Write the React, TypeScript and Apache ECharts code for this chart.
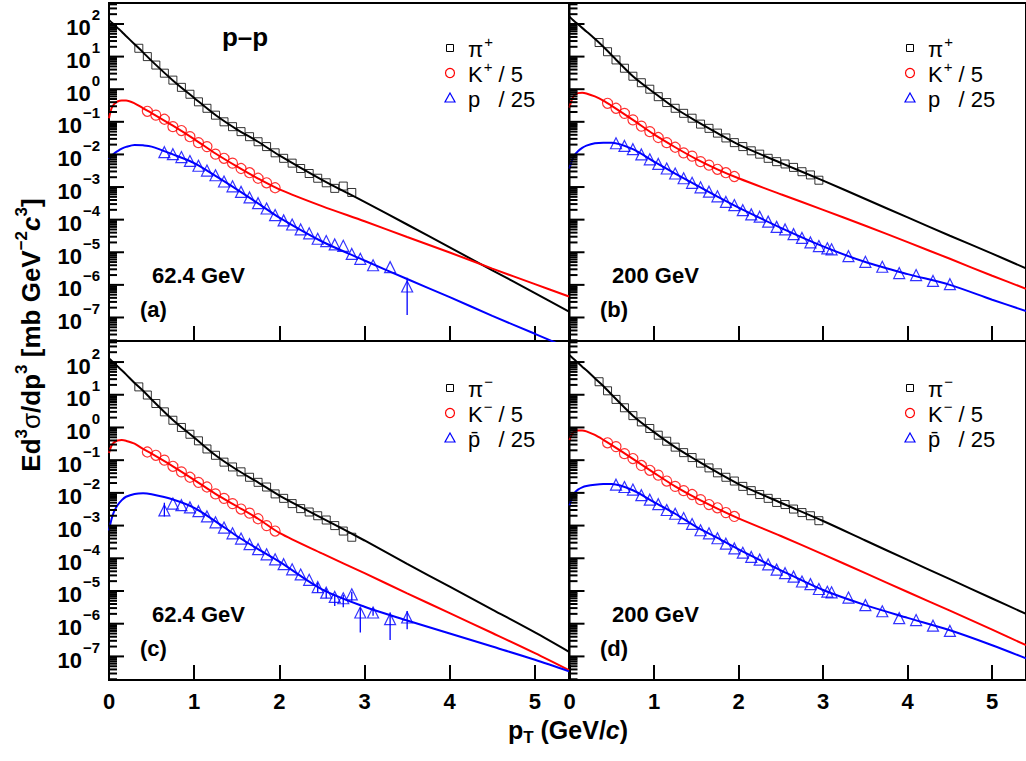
import React, { useEffect, useRef } from 'react';
import * as echarts from 'echarts';

const FONT = '"Liberation Sans", Arial, Helvetica, sans-serif';

const Y_MIN = 1.9e-8;
const Y_MAX = 4.4e2;
const X_MAX = 5.4;

// decade ticks of the log axis and their labels
const Y_DECADES = [1e-7, 1e-6, 1e-5, 1e-4, 1e-3, 1e-2, 1e-1, 1e0, 1e1, 1e2];
const Y_DECADE_EXP = ['\u22127', '\u22126', '\u22125', '\u22124', '\u22123', '\u22122', '\u22121', '0', '1', '2'];

// pT grid on which the fit curves were read
const FIT_PT = [0, 0.03, 0.06, 0.1, 0.15, 0.2, 0.3, 0.4, 0.5, 0.75, 1.0, 1.25, 1.5, 1.75, 2.0, 2.5, 3.0, 3.5, 4.0, 4.5, 5.0, 5.4];

// ---- 62.4 GeV ----
const PI_PT_62 = [0.35, 0.45, 0.55, 0.65, 0.75, 0.85, 0.95, 1.05, 1.15, 1.25, 1.35, 1.45, 1.55, 1.65, 1.75, 1.85, 1.95, 2.05, 2.15, 2.25, 2.35, 2.45, 2.55, 2.65, 2.75, 2.85];
const K_PT = [0.45, 0.55, 0.65, 0.75, 0.85, 0.95, 1.05, 1.15, 1.25, 1.35, 1.45, 1.55, 1.65, 1.75, 1.85, 1.95];
const P_PT_62 = [0.65, 0.75, 0.85, 0.95, 1.05, 1.15, 1.25, 1.35, 1.45, 1.55, 1.65, 1.75, 1.85, 1.95, 2.05, 2.15, 2.25, 2.35, 2.45, 2.55, 2.65, 2.75, 2.85, 2.95, 3.1, 3.3, 3.5];

// (a) positive, 62.4 GeV
const PI_POS_62 = [1.8e1, 1.0e1, 5.5, 3.1, 1.9, 1.14, 7.0e-1, 4.1e-1, 2.6e-1, 1.6e-1, 1.0e-1, 7.1e-2, 5.0e-2, 3.5e-2, 2.45e-2, 1.74e-2, 1.12e-2, 7.6e-3, 5.4e-3, 3.7e-3, 2.6e-3, 1.86e-3, 1.35e-3, 9.1e-4, 1.07e-3, 6.8e-4];
const K_POS_62 = [2.1e-1, 1.6e-1, 1.2e-1, 7.1e-2, 5.4e-2, 3.5e-2, 2.3e-2, 1.74e-2, 1.02e-2, 7.6e-3, 5.4e-3, 3.7e-3, 2.75e-3, 1.86e-3, 1.35e-3, 9.5e-4];
const P_POS_62 = [1.17e-2, 1.02e-2, 8.3e-3, 6.3e-3, 4.5e-3, 3.2e-3, 2.3e-3, 1.48e-3, 1.05e-3, 7.1e-4, 4.8e-4, 3.2e-4, 2.2e-4, 1.38e-4, 9.5e-5, 7.1e-5, 5.0e-5, 3.8e-5, 2.6e-5, 2.2e-5, 1.74e-5, 1.58e-5, 8.9e-6, 6.3e-6, 4.0e-6, 3.5e-6, 8.9e-7];
const FIT_PI_POS_62 = [1.32e2, 1.12e2, 9.5e1, 7.6e1, 5.75e1, 4.27e1, 2.4e1, 1.35e1, 7.4, 1.86, 5.4e-1, 1.62e-1, 5.9e-2, 2.45e-2, 9.3e-3, 1.66e-3, 3.5e-4, 7.1e-5, 1.41e-5, 2.8e-6, 5.6e-7, 1.51e-7];
const FIT_K_POS_62 = [1.29e-1, 2.6e-1, 3.5e-1, 4.2e-1, 4.5e-1, 4.5e-1, 3.7e-1, 2.6e-1, 1.86e-1, 7.6e-2, 2.95e-2, 1.07e-2, 4.3e-3, 1.82e-3, 8.5e-4, 2.6e-4, 8.9e-5, 2.95e-5, 9.8e-6, 3.16e-6, 1.05e-6, 4.4e-7];
const FIT_P_POS_62 = [7.1e-3, 8.9e-3, 1.07e-2, 1.26e-2, 1.51e-2, 1.7e-2, 1.95e-2, 1.9e-2, 1.74e-2, 1.0e-2, 5.4e-3, 2.2e-3, 8.5e-4, 3.16e-4, 1.15e-4, 2.14e-5, 5.6e-6, 1.51e-6, 4.2e-7, 1.12e-7, 3.16e-8, 1.12e-8];
const P_ERR_POS_62 = [[3.5, 1.2e-7, 1.66e-6]];

// (c) negative, 62.4 GeV
const PI_NEG_62 = [1.74e1, 9.8, 5.4, 3.0, 1.66, 1.0, 6.2e-1, 3.9e-1, 2.2e-1, 1.41e-1, 8.7e-2, 6.2e-2, 4.4e-2, 3.0e-2, 2.1e-2, 1.51e-2, 9.3e-3, 6.8e-3, 4.7e-3, 3.3e-3, 2.6e-3, 2.0e-3, 1.48e-3, 1.0e-3, 6.8e-4, 4.4e-4];
const K_NEG_62 = [1.78e-1, 1.41e-1, 1.0e-1, 6.5e-2, 4.4e-2, 3.0e-2, 2.1e-2, 1.51e-2, 9.3e-3, 6.8e-3, 4.7e-3, 3.2e-3, 2.4e-3, 1.62e-3, 1.0e-3, 6.8e-4];
const PBAR_NEG_62 = [2.9e-3, 4.7e-3, 4.2e-3, 3.6e-3, 2.75e-3, 1.9e-3, 1.26e-3, 8.7e-4, 5.8e-4, 4.0e-4, 2.7e-4, 1.9e-4, 1.32e-4, 9.3e-5, 6.6e-5, 4.6e-5, 3.2e-5, 2.2e-5, 1.32e-5, 8.9e-6, 6.6e-6, 6.0e-6, 7.9e-6, 2.2e-6, 2.2e-6, 1.38e-6, 1.55e-6];
const FIT_PI_NEG_62 = [1.29e2, 1.1e2, 9.3e1, 7.4e1, 5.6e1, 4.2e1, 2.3e1, 1.32e1, 7.2, 1.7, 4.9e-1, 1.41e-1, 5.1e-2, 2.1e-2, 8.3e-3, 1.7e-3, 3.5e-4, 6.8e-5, 1.35e-5, 2.7e-6, 5.4e-7, 1.38e-7];
const FIT_K_NEG_62 = [1.66e-1, 2.8e-1, 3.5e-1, 4.0e-1, 4.1e-1, 3.9e-1, 3.2e-1, 2.2e-1, 1.58e-1, 6.5e-2, 2.5e-2, 9.3e-3, 3.9e-3, 1.62e-3, 6.0e-4, 1.41e-4, 3.5e-5, 8.5e-6, 2.1e-6, 5.2e-7, 1.26e-7, 3.8e-8];
const FIT_PBAR_NEG_62 = [7.1e-4, 1.58e-3, 2.7e-3, 4.2e-3, 6.0e-3, 7.6e-3, 9.3e-3, 9.8e-3, 9.1e-3, 6.3e-3, 3.5e-3, 1.35e-3, 4.8e-4, 1.9e-4, 7.9e-5, 1.12e-5, 3.3e-6, 1.26e-6, 5.0e-7, 2.0e-7, 7.9e-8, 3.5e-8];
const PBAR_ERR_NEG_62 = [[0.65, 1.9e-3, 5.0e-3], [2.45, 9.0e-6, 1.8e-5], [2.55, 6.0e-6, 1.2e-5], [2.65, 3.5e-6, 8.0e-6], [2.75, 3.2e-6, 7.5e-6], [2.85, 5.0e-6, 9.5e-6], [2.95, 5.4e-7, 3.1e-6], [3.1, 1.74e-6, 3.1e-6], [3.3, 3.2e-7, 2.2e-6], [3.5, 6.8e-7, 2.45e-6]];

// ---- 200 GeV ----
const PI_PT_200 = [0.35, 0.45, 0.55, 0.65, 0.75, 0.85, 0.95, 1.05, 1.15, 1.25, 1.35, 1.45, 1.55, 1.65, 1.75, 1.85, 1.95, 2.05, 2.15, 2.25, 2.35, 2.45, 2.55, 2.65, 2.75, 2.85, 2.95];
const P_PT_200 = [0.55, 0.65, 0.75, 0.85, 0.95, 1.05, 1.15, 1.25, 1.35, 1.45, 1.55, 1.65, 1.75, 1.85, 1.95, 2.05, 2.15, 2.25, 2.35, 2.45, 2.55, 2.65, 2.75, 2.85, 2.95, 3.05, 3.1, 3.3, 3.5, 3.7, 3.9, 4.1, 4.3, 4.5];

// (b) positive, 200 GeV
const PI_POS_200 = [2.7e1, 1.41e1, 7.9, 4.4, 2.5, 1.58, 1.0, 5.9e-1, 3.9e-1, 2.6e-1, 1.82e-1, 1.29e-1, 8.5e-2, 6.3e-2, 4.5e-2, 3.2e-2, 2.3e-2, 1.74e-2, 1.29e-2, 1.02e-2, 7.6e-3, 6.0e-3, 5.1e-3, 4.0e-3, 2.95e-3, 2.35e-3, 1.62e-3];
const K_POS_200 = [3.7e-1, 2.6e-1, 1.82e-1, 1.15e-1, 7.4e-2, 5.0e-2, 3.3e-2, 2.3e-2, 1.66e-2, 1.12e-2, 8.9e-3, 6.0e-3, 4.7e-3, 3.5e-3, 2.75e-3, 2.1e-3];
const P_POS_200 = [2.2e-2, 1.82e-2, 1.45e-2, 1.0e-2, 7.1e-3, 5.1e-3, 3.7e-3, 2.6e-3, 1.86e-3, 1.35e-3, 9.8e-4, 7.2e-4, 5.2e-4, 3.5e-4, 2.8e-4, 1.95e-4, 1.45e-4, 1.23e-4, 8.7e-5, 6.0e-5, 5.0e-5, 3.6e-5, 2.75e-5, 2.0e-5, 1.55e-5, 1.32e-5, 1.23e-5, 7.6e-6, 5.1e-6, 3.6e-6, 2.3e-6, 2.0e-6, 1.32e-6, 1.05e-6];
const FIT_PI_POS_200 = [1.66e2, 1.41e2, 1.2e2, 9.8e1, 7.6e1, 5.9e1, 3.5e1, 2.0e1, 1.1e1, 2.5, 7.8e-1, 2.6e-1, 1.05e-1, 4.5e-2, 2.0e-2, 5.5e-3, 1.58e-3, 4.3e-4, 1.17e-4, 3.2e-5, 9.1e-6, 3.2e-6];
const FIT_K_POS_200 = [2.75e-1, 5.0e-1, 6.6e-1, 7.6e-1, 7.8e-1, 7.4e-1, 6.0e-1, 4.5e-1, 3.1e-1, 1.15e-1, 4.1e-2, 1.66e-2, 7.2e-3, 3.5e-3, 1.86e-3, 6.0e-4, 2.0e-4, 6.5e-5, 2.04e-5, 6.3e-6, 1.9e-6, 7.6e-7];
const FIT_P_POS_200 = [3.7e-3, 6.6e-3, 9.5e-3, 1.26e-2, 1.58e-2, 1.86e-2, 2.2e-2, 2.3e-2, 2.3e-2, 1.45e-2, 6.0e-3, 2.6e-3, 1.15e-3, 5.1e-4, 2.34e-4, 5.6e-5, 1.51e-5, 5.0e-6, 2.14e-6, 1.0e-6, 3.5e-7, 1.58e-7];

// (d) negative, 200 GeV
const PI_NEG_200 = [2.5e1, 1.32e1, 7.2, 4.0, 2.3, 1.48, 9.3e-1, 5.8e-1, 3.8e-1, 2.5e-1, 1.7e-1, 1.2e-1, 8.1e-2, 5.8e-2, 4.1e-2, 3.0e-2, 2.3e-2, 1.58e-2, 1.17e-2, 8.9e-3, 6.8e-3, 5.1e-3, 4.4e-3, 3.2e-3, 2.5e-3, 2.0e-3, 1.41e-3];
const K_NEG_200 = [3.4e-1, 2.6e-1, 1.58e-1, 1.12e-1, 6.9e-2, 4.9e-2, 3.5e-2, 2.3e-2, 1.58e-2, 1.17e-2, 8.9e-3, 6.2e-3, 4.4e-3, 3.5e-3, 2.5e-3, 1.9e-3];
const PBAR_NEG_200 = [1.78e-2, 1.51e-2, 1.26e-2, 8.5e-3, 6.2e-3, 4.5e-3, 3.0e-3, 2.3e-3, 1.7e-3, 1.12e-3, 7.2e-4, 5.8e-4, 4.1e-4, 2.8e-4, 2.0e-4, 1.48e-4, 1.1e-4, 9.1e-5, 6.5e-5, 4.5e-5, 3.5e-5, 2.75e-5, 1.95e-5, 1.62e-5, 1.15e-5, 9.5e-6, 9.1e-6, 6.3e-6, 3.7e-6, 2.4e-6, 1.48e-6, 1.29e-6, 8.7e-7, 6.0e-7];
const FIT_PI_NEG_200 = [1.62e2, 1.38e2, 1.17e2, 9.5e1, 7.2e1, 5.6e1, 3.2e1, 1.86e1, 1.0e1, 2.3, 7.2e-1, 2.5e-1, 1.0e-1, 4.2e-2, 1.86e-2, 5.0e-3, 1.38e-3, 3.5e-4, 8.9e-5, 2.3e-5, 5.9e-6, 2.0e-6];
const FIT_K_NEG_200 = [4.1e-1, 6.3e-1, 7.6e-1, 8.1e-1, 8.1e-1, 7.6e-1, 5.9e-1, 4.2e-1, 2.9e-1, 1.1e-1, 4.1e-2, 1.58e-2, 6.9e-3, 3.3e-3, 1.66e-3, 4.8e-4, 1.32e-4, 3.5e-5, 9.3e-6, 2.5e-6, 6.6e-7, 2.2e-7];
const FIT_PBAR_NEG_200 = [4.1e-3, 7.1e-3, 1.0e-2, 1.26e-2, 1.48e-2, 1.62e-2, 1.78e-2, 1.86e-2, 1.86e-2, 1.2e-2, 5.2e-3, 2.3e-3, 9.1e-4, 4.2e-4, 1.86e-4, 4.3e-5, 1.07e-5, 3.7e-6, 1.51e-6, 6.3e-7, 2.2e-7, 8.7e-8];

const LEGEND_POS = ['{n|\u03C0}{sup|+}', '{n|K}{sup|+}{n| / 5}', '{n|p   / 25}'];
const LEGEND_NEG = ['{n|\u03C0}{sup|\u2212}', '{n|K}{sup|\u2212}{n| / 5}', '{n|p\u0304   / 25}'];
const ENERGY_LABELS = ['62.4 GeV', '200 GeV', '62.4 GeV', '200 GeV'];
const PANEL_TAGS = ['(a)', '(b)', '(c)', '(d)'];
const X_TICK_LABELS = ['0', '1', '2', '3', '4', '5'];

const PANELS = [
  { name: '62.4 GeV +', piPt: PI_PT_62, pi: PI_POS_62, k: K_POS_62, pPt: P_PT_62, p: P_POS_62, fPi: FIT_PI_POS_62, fK: FIT_K_POS_62, fP: FIT_P_POS_62, err: P_ERR_POS_62, legend: LEGEND_POS },
  { name: '200 GeV +', piPt: PI_PT_200, pi: PI_POS_200, k: K_POS_200, pPt: P_PT_200, p: P_POS_200, fPi: FIT_PI_POS_200, fK: FIT_K_POS_200, fP: FIT_P_POS_200, err: [], legend: LEGEND_POS },
  { name: '62.4 GeV -', piPt: PI_PT_62, pi: PI_NEG_62, k: K_NEG_62, pPt: P_PT_62, p: PBAR_NEG_62, fPi: FIT_PI_NEG_62, fK: FIT_K_NEG_62, fP: FIT_PBAR_NEG_62, err: PBAR_ERR_NEG_62, legend: LEGEND_NEG },
  { name: '200 GeV -', piPt: PI_PT_200, pi: PI_NEG_200, k: K_NEG_200, pPt: P_PT_200, p: PBAR_NEG_200, fPi: FIT_PI_NEG_200, fK: FIT_K_NEG_200, fP: FIT_PBAR_NEG_200, err: [], legend: LEGEND_NEG },
];

const GRIDS = [
  { left: 109, top: 3, width: 460, height: 338 },
  { left: 569.5, top: 3, width: 460, height: 338 },
  { left: 109, top: 341, width: 460, height: 339 },
  { left: 569.5, top: 341, width: 460, height: 339 },
];

const BLACK = '#000000';
const RED = '#ff0000';
const BLUE = '#0000ff';

const zip = (xs: number[], ys: number[]) => xs.map((x, i) => [x, ys[i]]);

const Y_LABEL_RICH = {
  b: { fontSize: 22, fontWeight: 'bold', fontFamily: FONT, fill: BLACK, padding: [8, 0, 0, 0] },
  s: { fontSize: 15, fontWeight: 'bold', fontFamily: FONT, fill: BLACK, padding: [0, 0, 18, 1] },
};

function buildOption() {
  const minorVals: number[] = [];
  for (let d = -8; d <= 2; d++) {
    for (let m = 2; m <= 9; m++) {
      const v = m * Math.pow(10, d);
      if (v > Y_MIN && v < Y_MAX) minorVals.push(v);
    }
  }

  const grid = GRIDS.map((g) => ({ ...g, show: true, borderColor: BLACK, borderWidth: 2, backgroundColor: 'rgba(0,0,0,0)' }));

  const xAxis = GRIDS.map((_, i) => ({
    type: 'value',
    gridIndex: i,
    min: 0,
    max: X_MAX,
    interval: 1,
    axisLine: { show: false },
    splitLine: { show: false },
    axisTick: { show: true, inside: true, length: 15, lineStyle: { color: BLACK, width: 2 } },
    axisLabel: {
      show: i >= 2,
      margin: 10,
      color: BLACK,
      fontFamily: FONT,
      fontSize: 22,
      fontWeight: 'bold',
      showMaxLabel: false,
      formatter: (v: number) => {
        const idx = Math.round(v);
        return Math.abs(v - idx) < 1e-9 && X_TICK_LABELS[idx] !== undefined ? X_TICK_LABELS[idx] : '';
      },
    },
  }));

  // log axes: the scale comes from ECharts, decade ticks/labels are placed with it through custom series
  const yAxis = GRIDS.map((_, i) => ({
    type: 'log',
    logBase: 10,
    gridIndex: i,
    min: Y_MIN,
    max: Y_MAX,
    axisLine: { show: false },
    splitLine: { show: false },
    axisTick: { show: false },
    axisLabel: { show: false },
  }));

  const series: any[] = [];
  PANELS.forEach((pn, i) => {
    const common = { xAxisIndex: i, yAxisIndex: i, silent: true };
    const fits = [
      { data: pn.fPi, color: BLACK, nm: 'pi fit' },
      { data: pn.fK, color: RED, nm: 'K fit' },
      { data: pn.fP, color: BLUE, nm: 'p fit' },
    ];
    fits.forEach((f) => {
      series.push({
        ...common,
        type: 'line',
        name: pn.name + ' ' + f.nm,
        data: zip(FIT_PT, f.data),
        showSymbol: false,
        smooth: 0.3,
        clip: true,
        lineStyle: { color: f.color, width: 2 },
        z: 2,
      });
    });
    series.push({
      ...common,
      type: 'scatter',
      name: pn.name + ' pi',
      data: zip(pn.piPt, pn.pi),
      symbol: 'rect',
      symbolSize: 8,
      itemStyle: { color: 'rgba(0,0,0,0)', borderColor: BLACK, borderWidth: 1 },
      z: 3,
    });
    series.push({
      ...common,
      type: 'scatter',
      name: pn.name + ' K',
      data: zip(K_PT, pn.k),
      symbol: 'circle',
      symbolSize: 10,
      itemStyle: { color: 'rgba(0,0,0,0)', borderColor: RED, borderWidth: 1.2 },
      z: 3,
    });
    series.push({
      ...common,
      type: 'scatter',
      name: pn.name + ' p',
      data: zip(pn.pPt, pn.p),
      symbol: 'triangle',
      symbolSize: 11,
      itemStyle: { color: 'rgba(0,0,0,0)', borderColor: BLUE, borderWidth: 1.2 },
      z: 3,
    });
    if (pn.err.length) {
      series.push({
        ...common,
        type: 'custom',
        name: pn.name + ' p err',
        data: pn.err,
        encode: { x: 0, y: [1, 2] },
        renderItem: (params: any, api: any) => {
          const x = api.value(0);
          const a = api.coord([x, api.value(1)]);
          const b = api.coord([x, api.value(2)]);
          return { type: 'line', shape: { x1: a[0], y1: a[1], x2: b[0], y2: b[1] }, style: { stroke: BLUE, lineWidth: 1.3 } };
        },
        z: 3,
      });
    }
    // minor log ticks (2..9 in each decade)
    series.push({
      ...common,
      type: 'custom',
      name: 'minor ticks ' + i,
      clip: false,
      data: minorVals.map((v) => [0, v]),
      renderItem: (params: any, api: any) => {
        const p = api.coord([0, api.value(1)]);
        return { type: 'line', shape: { x1: p[0], y1: p[1], x2: p[0] + 8, y2: p[1] }, style: { stroke: BLACK, lineWidth: 2 } };
      },
      z: 4,
    });
    // decade ticks + labels
    const withLabels = i === 0 || i === 2;
    series.push({
      ...common,
      type: 'custom',
      name: 'decade ticks ' + i,
      clip: false,
      data: Y_DECADES.map((v, j) => [0, v, j]),
      renderItem: (params: any, api: any) => {
        const p = api.coord([0, api.value(1)]);
        const j = api.value(2);
        const children: any[] = [
          { type: 'line', shape: { x1: p[0], y1: p[1], x2: p[0] + 15, y2: p[1] }, style: { stroke: BLACK, lineWidth: 2 } },
        ];
        if (withLabels) {
          children.push({
            type: 'text',
            x: p[0] - 9,
            y: p[1],
            style: { text: '{b|10}{s|' + Y_DECADE_EXP[j] + '}', rich: Y_LABEL_RICH, align: 'right', verticalAlign: 'middle' },
          });
        }
        return { type: 'group', children };
      },
      z: 4,
    });
  });

  const legendRich = {
    n: { fontSize: 22, fontFamily: FONT, fill: BLACK },
    sup: { fontSize: 15, fontFamily: FONT, fill: BLACK, padding: [0, 0, 16, 1] },
  };

  const graphic: any[] = [];
  const LEG_X = [450, 910, 450, 910];
  const LEG_Y = [48, 48, 388, 388];
  PANELS.forEach((pn, i) => {
    const lx = LEG_X[i];
    const ly = LEG_Y[i];
    graphic.push({ type: 'rect', shape: { x: lx - 3.5, y: ly - 3.5, width: 7, height: 7 }, style: { fill: 'none', stroke: BLACK, lineWidth: 1 } });
    graphic.push({ type: 'circle', shape: { cx: lx, cy: ly + 25, r: 4.5 }, style: { fill: 'none', stroke: RED, lineWidth: 1.2 } });
    graphic.push({ type: 'polygon', shape: { points: [[lx, ly + 45], [lx + 5, ly + 54], [lx - 5, ly + 54]] }, style: { fill: 'none', stroke: BLUE, lineWidth: 1.2 } });
    pn.legend.forEach((t, j) => {
      graphic.push({
        type: 'text',
        x: lx + 18,
        y: ly + 1 + j * 25,
        style: { text: t, rich: legendRich, align: 'left', verticalAlign: 'middle', fontSize: 22, fontFamily: FONT, fill: BLACK },
      });
    });
    const gx = i % 2 === 0 ? 152 : 612;
    const gy = i < 2 ? 275 : 614;
    graphic.push({ type: 'text', x: gx, y: gy, style: { text: ENERGY_LABELS[i], fontSize: 22, fontWeight: 'bold', fontFamily: FONT, fill: BLACK, align: 'left', verticalAlign: 'middle' } });
    graphic.push({ type: 'text', x: gx - 12, y: gy + 34, style: { text: PANEL_TAGS[i], fontSize: 22, fontWeight: 'bold', fontFamily: FONT, fill: BLACK, align: 'left', verticalAlign: 'middle' } });
  });

  graphic.push({ type: 'text', x: 245, y: 37, style: { text: 'p\u2013p', fontSize: 26, fontWeight: 'bold', fontFamily: FONT, fill: BLACK, align: 'center', verticalAlign: 'middle' } });

  const titleRich = {
    b: { fontSize: 26, fontWeight: 'bold', fontFamily: FONT, fill: BLACK },
    g: { fontSize: 26, fontWeight: 'normal', fontFamily: FONT, fill: BLACK },
    i: { fontSize: 26, fontWeight: 'bold', fontStyle: 'italic', fontFamily: FONT, fill: BLACK },
    s: { fontSize: 17, fontWeight: 'bold', fontFamily: FONT, fill: BLACK, padding: [0, 0, 20, 0] },
  };
  const xTitleRich = {
    b: { fontSize: 25, fontWeight: 'bold', fontFamily: FONT, fill: BLACK },
    i: { fontSize: 25, fontWeight: 'bold', fontStyle: 'italic', fontFamily: FONT, fill: BLACK },
    t: { fontSize: 17, fontWeight: 'bold', fontFamily: FONT, fill: BLACK, padding: [15, 0, 0, 0] },
  };
  graphic.push({
    type: 'text',
    x: 31,
    y: 335,
    rotation: Math.PI / 2,
    style: { text: '{b|Ed}{s|3}{g|\u03C3}{b|/dp}{s|3}{b| [mb GeV}{s|\u22122}{i|c}{s|3}{b|]}', rich: titleRich, align: 'center', verticalAlign: 'middle' },
  });
  graphic.push({
    type: 'text',
    x: 568,
    y: 730,
    style: { text: '{b|p}{t|T}{b| (GeV/}{i|c}{b|)}', rich: xTitleRich, align: 'center', verticalAlign: 'middle' },
  });

  return {
    animation: false,
    backgroundColor: '#ffffff',
    textStyle: { fontFamily: FONT },
    grid,
    xAxis,
    yAxis,
    series,
    graphic,
  };
}

export default function App() {
  const ref = useRef<HTMLDivElement>(null);
  useEffect(() => {
    if (!ref.current) return;
    const chart = echarts.init(ref.current, null, { renderer: 'svg' });
    chart.setOption(buildOption() as any);
    return () => chart.dispose();
  }, []);
  return <div ref={ref} style={{ position: 'absolute', left: 0, top: 0, width: 1026, height: 761 }} />;
}
